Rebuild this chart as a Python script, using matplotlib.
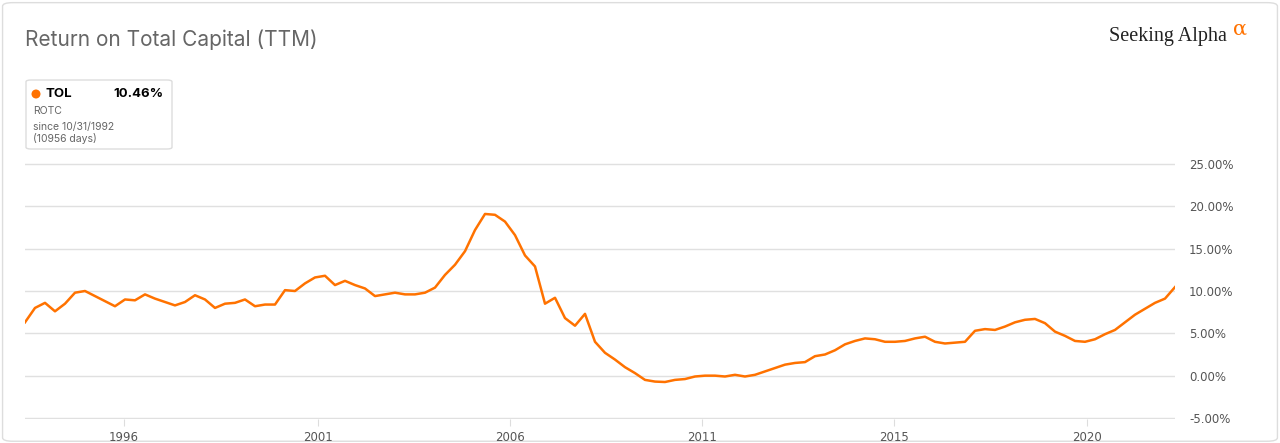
import matplotlib
matplotlib.use("Agg")
import matplotlib.pyplot as plt
from matplotlib.patches import FancyBboxPatch, Ellipse

rotc = [6.3, 8.0, 8.6, 7.6, 8.5, 9.8, 10.0, 9.4, 8.8, 8.2, 9.0, 8.9, 9.6, 9.1, 8.7, 8.3,
        8.7, 9.5, 9.0, 8.0, 8.5, 8.6, 9.0, 8.2, 8.4, 8.4, 10.1, 10.0, 10.9, 11.6, 11.8,
        10.7, 11.2, 10.7, 10.3, 9.4, 9.6, 9.8, 9.6, 9.6, 9.8, 10.4, 11.9, 13.1, 14.7,
        17.2, 19.1, 19.0, 18.2, 16.6, 14.2, 12.9, 8.5, 9.2, 6.8, 5.9, 7.3, 4.0, 2.7, 1.9,
        1.0, 0.3, -0.5, -0.7, -0.75, -0.5, -0.4, -0.1, 0.0, 0.0, -0.1, 0.1, -0.1, 0.1,
        0.5, 0.9, 1.3, 1.5, 1.6, 2.3, 2.5, 3.0, 3.7, 4.1, 4.4, 4.3, 4.0, 4.0, 4.1, 4.4,
        4.6, 4.0, 3.8, 3.9, 4.0, 5.3, 5.5, 5.4, 5.8, 6.3, 6.6, 6.7, 6.2, 5.2, 4.7, 4.1,
        4.0, 4.3, 4.9, 5.4, 6.3, 7.2, 7.9, 8.6, 9.1, 10.46]
year_labels = ["1996", "2001", "2006", "2011", "2015", "2020"]
year_pos = [9.9, 29.3, 48.5, 67.7, 86.9, 106.2]
y_ticks = [-5, 0, 5, 10, 15, 20, 25]

fig = plt.figure(figsize=(12.8, 4.43), dpi=100)
bg = FancyBboxPatch((0.002, 0.004), 0.996, 0.99, boxstyle="round,pad=0,rounding_size=0.008",
                    transform=fig.transFigure, fc="none", ec="#dddddd", lw=1, zorder=-5)
fig.patches.append(bg)
ax = fig.add_axes([25/1280, 24/443, 1150/1280, 256/443])
ax.set_facecolor("none")
x = list(range(len(rotc)))
ax.plot(x, rotc, color="#ff7200", lw=1.8, solid_joinstyle="round")
ax.set_xlim(0, len(rotc) - 1)
ax.set_ylim(-5.12, 25.12)
ax.set_yticks(y_ticks)
ax.set_yticklabels([f"{v:.2f}%" for v in y_ticks])
ax.yaxis.tick_right()
ax.grid(axis="y", color="#e0e0e0", lw=1)
ax.set_xticks(year_pos)
ax.set_xticklabels(year_labels)
ax.tick_params(axis="y", length=0, pad=10, labelsize=8.5, labelcolor="#555555")
ax.tick_params(axis="x", length=5, color="#dddddd", labelsize=8.5, labelcolor="#555555")
for s in ax.spines.values():
    s.set_visible(False)
ax.set_axisbelow(True)

fig.text(25/1280, 1-40/443, "Return on Total Capital (TTM)", fontsize=15, color="#666666",
         va="center", family="Inter")
fig.text(1109/1280, 1-37/443, "Seeking Alpha", fontsize=14.5, color="#222222", va="center",
         family="Liberation Serif")
fig.text(1233/1280, 1-29/443, "α", fontsize=15, color="#ff7200", va="center", family="DejaVu Serif")

fig.patches.append(FancyBboxPatch((26/1280, 1-149/443), 146/1280, 69/443,
                                  boxstyle="round,pad=0,rounding_size=0.004",
                                  transform=fig.transFigure, fc="white", ec="#dddddd", lw=1))
fig.patches.append(Ellipse((36/1280, 1-94/443), 9/1280, 9/443, transform=fig.transFigure,
                           fc="#ff7200", ec="none"))
fig.text(45/1280, 1-94/443, "TOL", fontsize=9.5, weight="bold", va="center", family="Inter")
fig.text(163/1280, 1-94/443, "10.46%", fontsize=9.5, weight="bold", va="center", ha="right", family="Inter")
fig.text(33/1280, 1-111/443, "ROTC", fontsize=7.5, color="#666666", va="center", family="Inter")
fig.text(33/1280, 1-127/443, "since 10/31/1992", fontsize=7.5, color="#666666", va="center", family="Inter")
fig.text(33/1280, 1-139/443, "(10956 days)", fontsize=7.5, color="#666666", va="center", family="Inter")

fig.savefig("out.png", dpi=100)
